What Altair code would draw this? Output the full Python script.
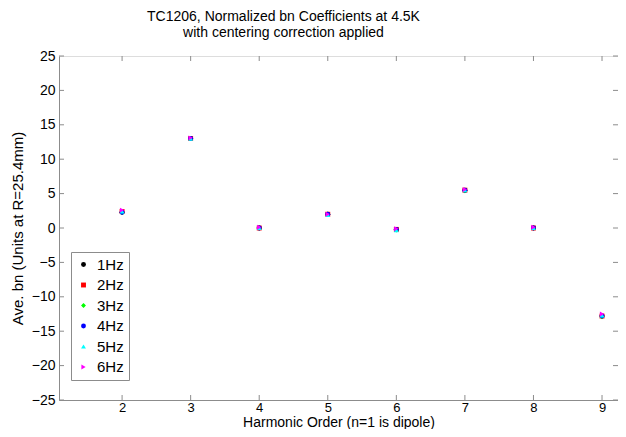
import altair as alt
import pandas as pd

orders = [2, 3, 4, 5, 6, 7, 8, 9]
series = ["1Hz", "2Hz", "3Hz", "4Hz", "5Hz", "6Hz"]
bn_1hz = [2.3, 13.0, 0.0, 2.0, -0.2, 5.5, 0.0, -12.8]
bn_2hz = [2.4, 13.0, 0.0, 2.0, -0.2, 5.5, 0.0, -12.8]
bn_3hz = [2.3, 13.0, 0.0, 2.0, -0.3, 5.4, 0.0, -12.9]
bn_4hz = [2.3, 13.0, 0.0, 2.0, -0.2, 5.5, 0.0, -12.8]
bn_5hz = [2.4, 13.0, 0.0, 1.9, -0.3, 5.5, 0.0, -12.7]
bn_6hz = [2.6, 13.1, 0.1, 2.0, -0.1, 5.6, 0.1, -12.5]
colors = ["#000000", "#ff0000", "#00ff00", "#0000ff", "#00ffff", "#ff00ff"]
shapes = ["circle", "square", "diamond", "circle", "triangle-up", "triangle-right"]
x_ticks = [2, 3, 4, 5, 6, 7, 8, 9]
y_ticks = [-25, -20, -15, -10, -5, 0, 5, 10, 15, 20, 25]

all_vals = [bn_1hz, bn_2hz, bn_3hz, bn_4hz, bn_5hz, bn_6hz]
rows = []
for s, vals in zip(series, all_vals):
    for n, v in zip(orders, vals):
        rows.append({"n": n, "bn": v, "freq": s})
df = pd.DataFrame(rows)

W, H = 559, 344
FONT = "Liberation Sans"
GRAY = "#8c8c8c"

xscale = alt.Scale(domain=[1.08, 9.233], nice=False, zero=False)
yscale = alt.Scale(domain=[-25, 25], nice=False, zero=False)

legend = alt.Legend(
    title=None, orient="none", legendX=12, legendY=196,
    strokeColor=GRAY, fillColor="white", padding=5,
    symbolSize=24, labelFontSize=15, labelFont=FONT, rowPadding=4.5,
    labelOffset=6, symbolStrokeWidth=0,
)

axis_common = dict(
    grid=False, ticks=False, labelOverlap=False, format="d",
    labelFont=FONT, titleFont=FONT,
    titleFontWeight="normal", labelColor="black", titleColor="black",
    domainColor=GRAY,
)
x_axis = alt.Axis(values=x_ticks, title="Harmonic Order (n=1 is dipole)",
                  labelFontSize=13, titleFontSize=14,
                  labelPadding=1, titleY=22, titleBaseline="middle", **axis_common)
y_axis = alt.Axis(values=y_ticks, title="Ave. bn (Units at R=25.4mm)",
                  labelFontSize=14, titleFontSize=15,
                  labelPadding=4, titleX=-42, titleBaseline="middle",
                  titleAngle=-90, **axis_common)

points = alt.Chart(df).mark_point(filled=True, size=24, opacity=1).encode(
    x=alt.X("n:Q", scale=xscale, axis=x_axis),
    y=alt.Y("bn:Q", scale=yscale, axis=y_axis),
    color=alt.Color("freq:N", scale=alt.Scale(domain=series, range=colors), legend=legend),
    shape=alt.Shape("freq:N", scale=alt.Scale(domain=series, range=shapes), legend=legend),
    order=alt.Order("freq:N"),
)

xt = pd.DataFrame({"t": x_ticks})
yt = pd.DataFrame({"t": y_ticks})
tick_style = dict(color=GRAY, strokeWidth=1)
xb = alt.Chart(xt).mark_rule(**tick_style).encode(x=alt.X("t:Q", scale=xscale, axis=x_axis), y=alt.value(H), y2=alt.value(H - 5))
xtp = alt.Chart(xt).mark_rule(**tick_style).encode(x=alt.X("t:Q", scale=xscale, axis=x_axis), y=alt.value(0), y2=alt.value(5))
yl = alt.Chart(yt).mark_rule(**tick_style).encode(y=alt.Y("t:Q", scale=yscale, axis=y_axis), x=alt.value(0), x2=alt.value(5))
yr = alt.Chart(yt).mark_rule(**tick_style).encode(y=alt.Y("t:Q", scale=yscale, axis=y_axis), x=alt.value(W), x2=alt.value(W - 5))

chart = alt.layer(points, xb, xtp, yl, yr).properties(
    width=W, height=H,
    autosize=alt.AutoSizeParams(type="none"),
    padding={"left": 51, "top": 48, "right": 0, "bottom": 29},
    title=alt.TitleParams(
        text=["TC1206, Normalized bn Coefficients at 4.5K", "with centering correction applied"],
        anchor="middle", dx=-55, fontSize=14, fontWeight="normal", font=FONT,
        lineHeight=16, offset=9, color="black",
    ),
).configure_view(stroke=GRAY, strokeWidth=1).configure(background="white")

chart.save("out.html", embed_options={"renderer": "svg", "actions": False})
